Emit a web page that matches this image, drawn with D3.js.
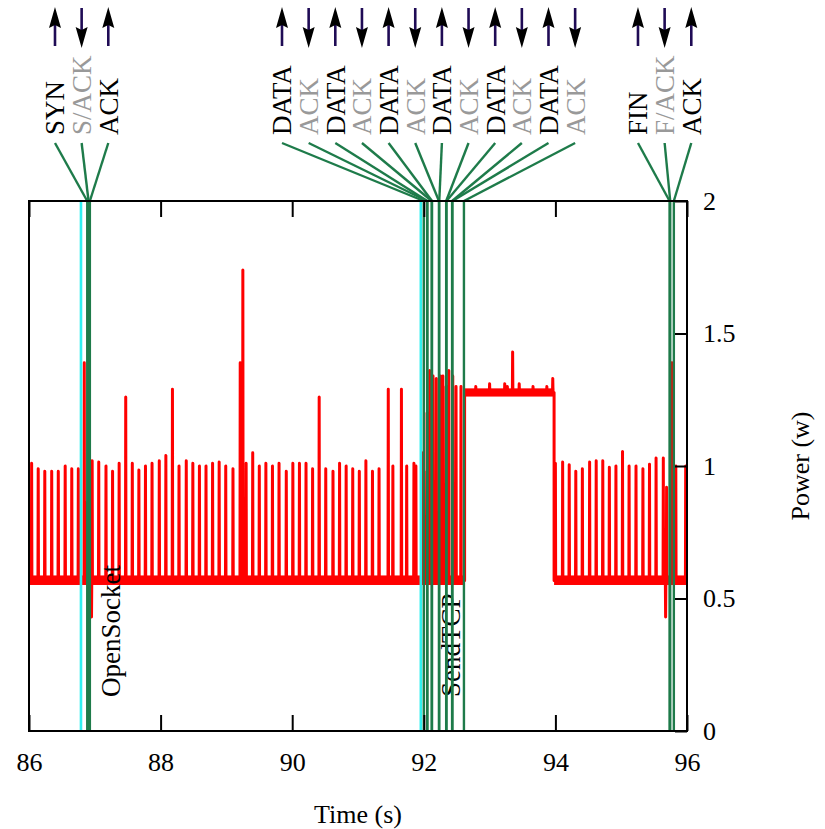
<!DOCTYPE html>
<html>
<head>
<meta charset="utf-8">
<script src="https://cdn.jsdelivr.net/npm/d3@7"></script>
<style>
body { margin: 0; background: #fff; }
text { font-family: "Liberation Serif", "Times New Roman", serif; }
</style>
</head>
<body>
<div id="chart"></div>
<script>
// axis ticks
const xTicks = [86, 88, 90, 92, 94, 96];
const yTicks = [0, 0.5, 1, 1.5, 2];

// power trace: spikes (time in s, power in w)
const spikeTimes = [86.04, 86.14, 86.24, 86.345, 86.445, 86.55, 86.65, 86.75, 86.84, 86.87, 86.95, 86.96,
    87.06, 87.17, 87.27, 87.37, 87.47, 87.57, 87.67, 87.77, 87.87, 87.98, 88.08, 88.18, 88.28, 88.39,
    88.49, 88.59, 88.69, 88.79, 88.89, 88.99, 89.10, 89.21, 89.25, 89.30, 89.40, 89.50, 89.60, 89.70,
    89.80, 89.91, 90.01, 90.11, 90.21, 90.31, 90.41, 90.51, 90.62, 90.72, 90.82, 90.92, 91.02, 91.12,
    91.22, 91.32, 91.46, 91.53, 91.66, 91.74, 91.85, 91.88, 91.97, 92.00, 92.05, 92.09, 92.14, 92.19,
    92.25, 92.29, 92.34, 92.38, 92.44, 92.49, 92.565,
    92.79, 93.0, 93.23, 93.27, 93.35, 93.45, 93.66, 93.87, 93.96,
    94.0, 94.11, 94.21, 94.31, 94.41, 94.52, 94.62, 94.72, 94.82, 94.92, 95.02, 95.12, 95.225, 95.33,
    95.43, 95.53, 95.64, 95.675, 95.69, 95.77, 95.83, 95.98];
const spikeValues = [1.01, 0.99, 0.98, 0.98, 0.98, 1.0, 0.99, 0.99, 1.39, 0.86, 0.43, 1.02,
    1.015, 1.0, 0.98, 1.01, 1.26, 1.01, 0.985, 1.0, 1.01, 1.02, 1.04, 1.29, 1.0, 1.02,
    1.01, 1.0, 1.0, 1.01, 1.015, 1.0, 0.99, 1.39, 1.74, 1.01, 1.05, 1.0, 1.01, 1.0,
    1.01, 0.98, 1.01, 1.01, 1.01, 0.99, 1.26, 0.99, 0.98, 1.01, 1.0, 0.99, 0.98, 1.02,
    0.98, 0.99, 1.29, 1.0, 1.29, 1.0, 1.01, 1.0, 1.05, 0.98, 1.2, 1.36, 1.34, 1.33,
    1.34, 1.34, 1.3, 1.36, 1.34, 1.3, 1.30,
    1.30, 1.31, 1.31, 1.30, 1.43, 1.31, 1.30, 1.30, 1.33,
    1.01, 1.015, 1.005, 0.98, 0.99, 1.015, 1.02, 1.02, 0.995, 1.0, 1.055, 1.0, 1.0, 0.99,
    1.007, 1.03, 1.03, 0.43, 0.92, 1.39, 1.0, 1.0];

// idle / transmit levels of the trace
const baseLevel = 0.568;
const plateauLevel = 1.277;
const plateauStart = 92.62;
const plateauEnd = 93.98;
// noise band around each level
const bandStart = [86, 92.62, 93.98];
const bandEnd = [92.62, 93.98, 96];
const bandLow = [0.551, 1.262, 0.551];
const bandHigh = [0.587, 1.293, 0.587];

// packets
const msgNames = ["SYN", "S/ACK", "ACK",
    "DATA", "ACK", "DATA", "ACK", "DATA", "ACK", "DATA", "ACK", "DATA", "ACK", "DATA", "ACK",
    "FIN", "F/ACK", "ACK"];
const msgTimes = [86.885, 86.905, 86.925,
    92.00, 92.05, 92.055, 92.12, 92.125, 92.23, 92.235, 92.34, 92.345, 92.43, 92.435, 92.61,
    95.735, 95.745, 95.80];
const msgSent = [true, false, true,
    true, false, true, false, true, false, true, false, true, false, true, false,
    true, false, true];
const msgGroup = [0, 0, 0, 1, 1, 1, 1, 1, 1, 1, 1, 1, 1, 1, 1, 2, 2, 2];
const groupLabelTime = [86.395, 89.845, 95.255];
const labelStep = 0.405;

// function calls
const callNames = ["OpenSocket", "SendTCP"];
const callTimes = [86.79, 91.955];

const W = 825, H = 829;
const margin = {top: 201, right: 138, bottom: 98, left: 29};

const x = d3.scaleLinear().domain([86, 96]).range([margin.left, W - margin.right]);
const y = d3.scaleLinear().domain([0, 2]).range([H - margin.bottom, margin.top]);

const svg = d3.select("#chart").append("svg")
    .attr("width", W)
    .attr("height", H);

svg.append("clipPath").attr("id", "plotclip")
    .append("rect")
    .attr("x", x(86)).attr("y", y(2))
    .attr("width", x(96) - x(86)).attr("height", y(0) - y(2));

// build the trace
let pts = [[86, baseLevel]];
let stepped = 0;
const eps = 0.004;
spikeTimes.forEach((t, i) => {
    if (stepped === 0 && t > plateauStart) {
        pts.push([plateauStart, baseLevel], [plateauStart, plateauLevel]);
        stepped = 1;
    }
    if (stepped === 1 && t > plateauEnd) {
        pts.push([plateauEnd, plateauLevel], [plateauEnd, baseLevel]);
        stepped = 2;
    }
    let lvl = stepped === 1 ? plateauLevel : baseLevel;
    pts.push([t - eps, lvl], [t, spikeValues[i]], [t + eps, lvl]);
});
pts.push([96, baseLevel]);

const plot = svg.append("g").attr("clip-path", "url(#plotclip)");

plot.selectAll(".band")
    .data(bandStart)
    .enter().append("rect")
    .attr("class", "band")
    .attr("x", (d, i) => x(d))
    .attr("width", (d, i) => x(bandEnd[i]) - x(d))
    .attr("y", (d, i) => y(bandHigh[i]))
    .attr("height", (d, i) => y(bandLow[i]) - y(bandHigh[i]))
    .attr("fill", "#ff0000");

plot.append("path")
    .datum(pts)
    .attr("d", d3.line().x(d => x(d[0])).y(d => y(d[1])))
    .attr("fill", "none")
    .attr("stroke", "#ff0000")
    .attr("stroke-width", 3)
    .attr("stroke-linejoin", "round");

const green = "#1e7b4a";
const cyan = "#30f0f0";

// function call markers
svg.selectAll(".call")
    .data(callTimes)
    .enter().append("line")
    .attr("class", "call")
    .attr("x1", d => x(d)).attr("x2", d => x(d))
    .attr("y1", y(2)).attr("y2", y(0))
    .attr("stroke", cyan)
    .attr("stroke-width", 2.6);

svg.selectAll(".callLabel")
    .data(callNames)
    .enter().append("text")
    .attr("class", "callLabel")
    .attr("transform", (d, i) => `translate(${x(callTimes[i]) + 30}, 697) rotate(-90)`)
    .attr("dy", "0.35em")
    .attr("font-size", 27)
    .text(d => d);

// packet markers
svg.selectAll(".msg")
    .data(msgTimes)
    .enter().append("line")
    .attr("class", "msg")
    .attr("x1", d => x(d)).attr("x2", d => x(d))
    .attr("y1", y(2)).attr("y2", y(0))
    .attr("stroke", green)
    .attr("stroke-width", 2.4);

let groupCount = [0, 0, 0];
const labelX = msgGroup.map(g => {
    let lx = x(groupLabelTime[g] + groupCount[g] * labelStep);
    groupCount[g]++;
    return lx;
});

svg.selectAll(".fan")
    .data(msgTimes)
    .enter().append("line")
    .attr("class", "fan")
    .attr("x1", (d, i) => labelX[i]).attr("y1", 143)
    .attr("x2", d => x(d)).attr("y2", y(2))
    .attr("stroke", green)
    .attr("stroke-width", 2.4);

svg.selectAll(".msgLabel")
    .data(msgNames)
    .enter().append("text")
    .attr("class", "msgLabel")
    .attr("transform", (d, i) => `translate(${labelX[i]}, 135) rotate(-90)`)
    .attr("dy", "0.35em")
    .attr("font-size", 27)
    .attr("fill", (d, i) => msgSent[i] ? "#000" : "#999")
    .text(d => d);

// arrows: up = sent, down = received
const arrows = svg.selectAll(".arrow")
    .data(msgSent)
    .enter().append("g")
    .attr("class", "arrow")
    .attr("transform", (d, i) => `translate(${labelX[i]}, 0)`);

arrows.append("line")
    .attr("x1", 0).attr("x2", 0)
    .attr("y1", d => d ? 46 : 8)
    .attr("y2", d => d ? 24 : 30)
    .attr("stroke", "#1f0b55")
    .attr("stroke-width", 2.6);

arrows.append("path")
    .attr("d", d => d ? "M0,7 L6,28 L0,25 L-6,28 Z" : "M0,48 L6,27 L0,30 L-6,27 Z")
    .attr("fill", "#000");

// axes
const xAxis = svg.append("g")
    .attr("transform", `translate(0, ${y(0)})`)
    .call(d3.axisBottom(x).tickValues(xTicks).tickSize(-16).tickPadding(22).tickFormat(d => d));

const xAxisTop = svg.append("g")
    .attr("transform", `translate(0, ${y(2)})`)
    .call(d3.axisTop(x).tickValues(xTicks).tickSize(-16).tickFormat(""));

const yAxis = svg.append("g")
    .attr("transform", `translate(${x(96)}, 0)`)
    .call(d3.axisRight(y).tickValues(yTicks).tickSize(-12).tickPadding(16).tickFormat(d => d));

[xAxis, xAxisTop, yAxis].forEach(a => {
    a.select(".domain").remove();
    a.selectAll("line").attr("stroke", "#000").attr("stroke-width", 2);
    a.selectAll("text").attr("font-size", 26).attr("fill", "#000")
        .attr("font-family", "Liberation Serif, serif");
});

svg.append("rect")
    .attr("x", x(86)).attr("y", y(2))
    .attr("width", x(96) - x(86)).attr("height", y(0) - y(2))
    .attr("fill", "none")
    .attr("stroke", "#000")
    .attr("stroke-width", 2);

svg.append("text")
    .attr("x", (x(86) + x(96)) / 2)
    .attr("y", 823)
    .attr("text-anchor", "middle")
    .attr("font-size", 26)
    .text("Time (s)");

svg.append("text")
    .attr("transform", `translate(800, ${y(1)}) rotate(-90)`)
    .attr("text-anchor", "middle")
    .attr("dy", "0.35em")
    .attr("font-size", 26)
    .text("Power (w)");
</script>
</body>
</html>
